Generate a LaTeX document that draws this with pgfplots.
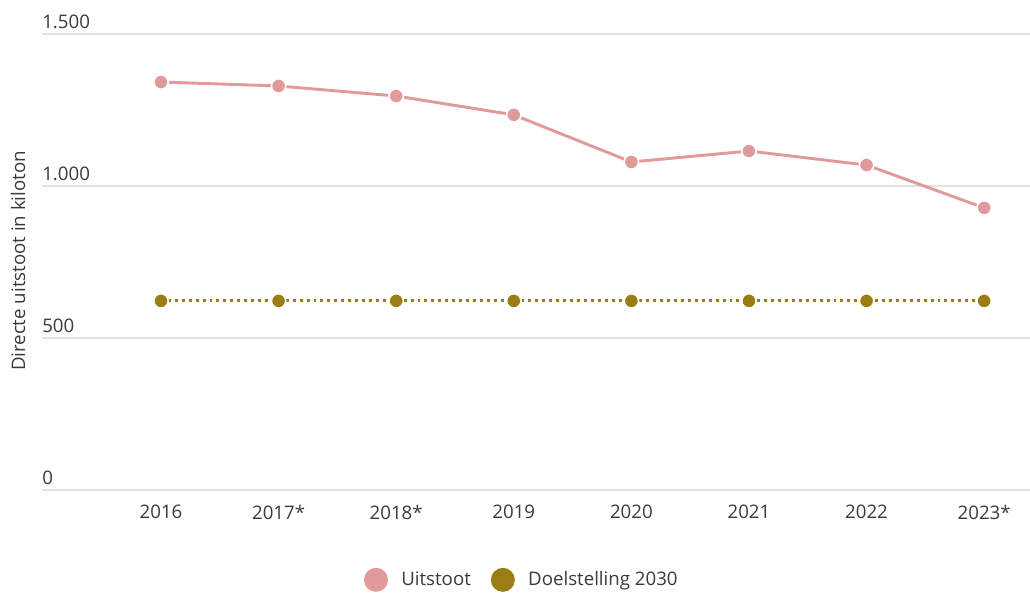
\documentclass[border=0pt]{standalone}
\usepackage{pgfplots}
\pgfplotsset{compat=1.18}
\usepackage{fontspec}
\setmainfont{Open Sans}
\definecolor{pinkc}{HTML}{E09A9A}
\definecolor{olivec}{HTML}{9A7E14}
\definecolor{txt}{HTML}{3A3A3A}
\definecolor{gridc}{HTML}{E2E2E2}
\begin{document}
\begin{tikzpicture}[x=0.75pt,y=0.75pt]
\path[use as bounding box] (0,0) rectangle (1030,592);
\begin{axis}[
  at={(31.5pt,76.5pt)}, anchor=south west,
  scale only axis, width=741pt, height=342pt,
  xmin=-1.012, xmax=7.39, ymin=0, ymax=1500,
  axis line style={draw=none},
  major tick length=0pt,
  ymajorgrids, grid style={gridc, line width=1.8pt},
  ytick={0,500,1000,1500}, yticklabels={0,500,1.000,1.500},
  xtick={0,...,7}, xticklabels={2016,2017*,2018*,2019,2020,2021,2022,2023*},
  tick label style={font=\fontsize{14}{16}\selectfont, text=txt},
  yticklabel style={anchor=south west, inner sep=0pt, yshift=3.5pt},
  xticklabel style={anchor=north, inner sep=0pt, yshift=-11pt},
  legend columns=2,
  legend style={draw=none, fill=none, at={(0.486,-0.197)}, anchor=center,
    font=\fontsize{14}{16}\selectfont, text=txt,
    /tikz/every even column/.append style={column sep=13pt}},
  clip=false,
]
\addplot[pinkc, line width=2.2pt, mark=*, mark size=5.4pt,
  mark options={fill=pinkc, draw=white, line width=1.2pt},
  legend image code/.code={\path[fill=pinkc, draw=none] (0pt,0) circle (9pt); \path[draw=none] (-9pt,0) -- (17pt,0);}]
  coordinates {(0,1342) (1,1329) (2,1296) (3,1234) (4,1079) (5,1115) (6,1069) (7,928)};
\addlegendentry{Uitstoot}
\addplot[olivec, line width=2.2pt, dash pattern=on 2.2pt off 3pt, mark=*, mark size=5.4pt,
  mark options={fill=olivec, draw=white, line width=1.2pt, solid},
  legend image code/.code={\path[fill=olivec, draw=none] (0pt,0) circle (9pt); \path[draw=none] (-9pt,0) -- (17pt,0);}]
  coordinates {(0,622) (1,622) (2,622) (3,622) (4,622) (5,622) (6,622) (7,622)};
\addlegendentry{Doelstelling 2030}
\end{axis}
\node[rotate=90, font=\fontsize{14}{16}\selectfont, text=txt] at (18,331) {Directe uitstoot in kiloton};
\end{tikzpicture}
\end{document}
